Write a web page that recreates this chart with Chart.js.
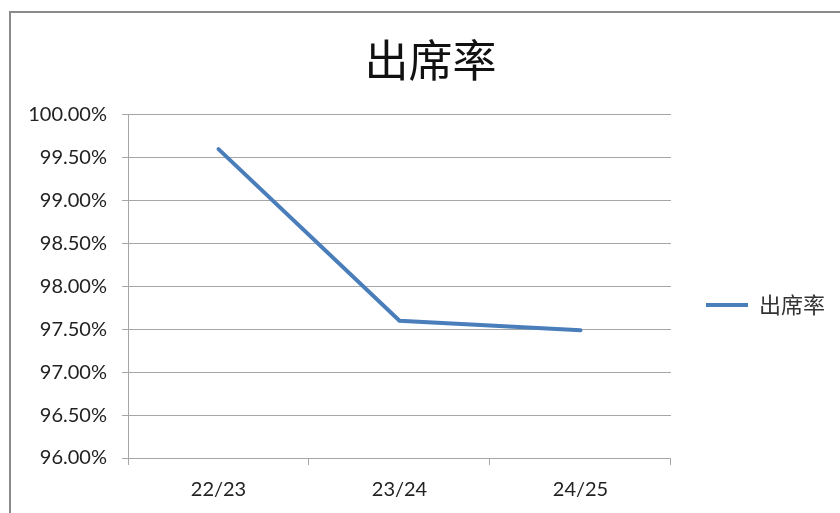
<!DOCTYPE html>
<html>
<head>
<meta charset="utf-8">
<script src="https://cdn.jsdelivr.net/npm/chart.js@4"></script>
<style>
  html, body { margin: 0; padding: 0; background: #fff; }
  #frame {
    position: absolute; left: 9px; top: 11px; width: 900px; height: 600px;
    border: 2px solid #8a8a8a;
  }
  #wrap { position: absolute; left: 0; top: 0; width: 840px; height: 513px; }
</style>
</head>
<body>
<div id="frame"></div>
<div id="wrap"><canvas id="chart"></canvas></div>
<script>
const categories = ["22/23", "23/24", "24/25"];
const attendance = [99.6, 97.6, 97.49];
const seriesName = "出席率";
const yMin = 96;
const yMax = 100;
const yStep = 0.5;

const tickFont = { family: "Lato, 'Noto Sans', sans-serif", size: 20 };
const gridColor = "#a6a6a6";

new Chart(document.getElementById("chart"), {
  type: "line",
  data: {
    labels: categories,
    datasets: [
      {
        label: seriesName,
        data: attendance,
        borderColor: "#4a7ebb",
        backgroundColor: "#4a7ebb",
        borderWidth: 4,
        borderCapStyle: "round",
        tension: 0,
        pointRadius: 0,
        fill: false,
      },
    ],
  },
  options: {
    responsive: true,
    maintainAspectRatio: false,
    animation: false,
    layout: { padding: { left: 26, right: 5, top: 0, bottom: 0 } },
    scales: {
      x: {
        offset: true,
        afterFit: (s) => { s.height = 55; },
        grid: { offset: true, drawOnChartArea: false, drawTicks: true, tickLength: 7, color: gridColor },
        border: { color: gridColor },
        ticks: { color: "#222", font: tickFont, padding: 13, maxRotation: 0 },
      },
      y: {
        min: yMin,
        max: yMax,
        afterFit: (s) => { s.width = 102; },
        grid: { color: gridColor, tickLength: 6 },
        border: { color: gridColor },
        ticks: {
          stepSize: yStep,
          color: "#222",
          font: tickFont,
          padding: 15,
          callback: (v) => v.toFixed(2) + "%",
        },
      },
    },
    plugins: {
      title: {
        display: true,
        text: seriesName,
        color: "#111",
        font: { family: "'Noto Sans CJK TC', sans-serif", size: 44, weight: "normal", lineHeight: 1.2 },
        padding: { top: 34, bottom: 28 },
      },
      legend: {
        position: "right",
        align: "start",
        title: { display: true, text: "", padding: { top: 0, bottom: 235 }, font: { size: 20 } },
        labels: {
          usePointStyle: true,
          pointStyle: "line",
          pointStyleWidth: 42,
          padding: 35,
          color: "#333",
          font: { family: "'Noto Sans CJK TC', sans-serif", size: 22 },
        },
      },
      tooltip: { enabled: false },
    },
  },
});
</script>
</body>
</html>
